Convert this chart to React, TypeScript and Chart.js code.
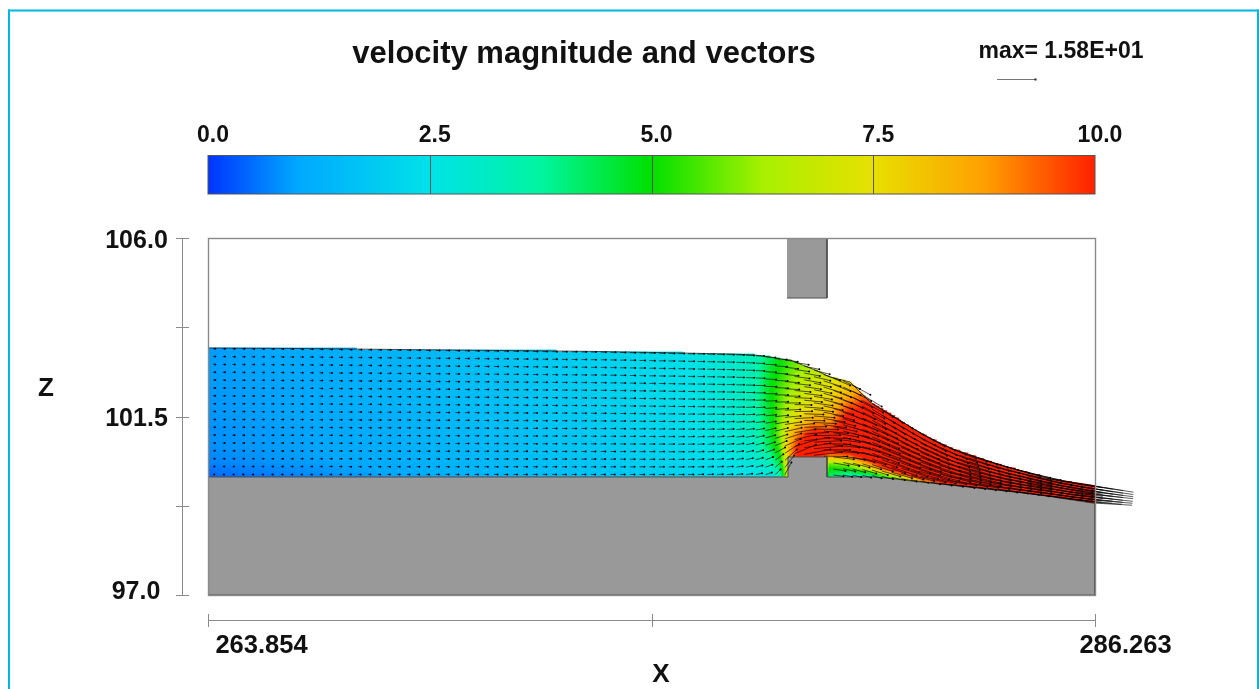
import React, { useEffect, useRef } from "react";
import { Chart, registerables } from "chart.js";

Chart.register(...registerables);

const titleText = "velocity magnitude and vectors";
const maxText = "max= 1.58E+01";
const xAxisTitle = "X";
const zAxisTitle = "Z";

const xMin = 263.854;
const xMax = 286.263;
const zMin = 97;
const zMax = 106;

const xTicks = [263.854, 275.0585, 286.263];
const xTickLabels = ["263.854", "", "286.263"];
const zTicks = [97, 99.25, 101.5, 103.75, 106];
const zTickLabels = ["97.0", "", "101.5", "", "106.0"];

const colorValues = [0, 1.0, 2.5, 3.75, 5, 6.25, 7.5, 8.75, 10];
const colorHex = ["#0033ff", "#00a8ff", "#00e2e8", "#00f5a0", "#00e000", "#a8f000", "#e8e000", "#ffa000", "#ff2000"];

const stations = [263.854, 266.178, 268.705, 271.231, 273.757, 275.779, 277.042, 277.674, 278.052, 278.307, 278.557, 278.81, 279.189, 279.568, 280.073, 280.578, 281.084, 281.842, 282.6, 283.863, 285.126, 286.263];
const surfaceZ = [103.227, 103.214, 103.189, 103.164, 103.139, 103.101, 103.076, 103.05, 103.0, 102.95, 102.924, 102.823, 102.672, 102.496, 102.37, 101.866, 101.563, 101.084, 100.706, 100.277, 99.924, 99.748];
const bedZ = [99.975, 99.975, 99.975, 99.975, 99.975, 99.975, 99.975, 99.975, 99.975, 99.975, 99.975, 99.975, 99.975, 99.975, 99.975, 99.975, 99.937, 99.849, 99.773, 99.647, 99.483, 99.307];
const vectorRowsByStation = [17, 17, 17, 17, 17, 17, 17, 17, 17, 17, 17, 17, 17, 17, 16, 14, 13, 11, 10, 9, 8, 7];

// speed per station, surface to bed
const speedByStation = [
  [0.9, 0.9, 0.9, 0.85, 0.85, 0.8, 0.8, 0.7, 0.45],
  [1.05, 1.05, 1, 1, 1, 0.95, 0.95, 0.9, 0.7],
  [1.35, 1.3, 1.3, 1.3, 1.25, 1.2, 1.2, 1.15, 1.0],
  [1.7, 1.7, 1.65, 1.6, 1.6, 1.55, 1.5, 1.5, 1.4],
  [2.05, 2.05, 2.0, 2.0, 1.95, 1.9, 1.85, 1.8, 1.7],
  [2.4, 2.4, 2.4, 2.4, 2.35, 2.3, 2.25, 2.2, 2.1],
  [2.9, 2.9, 2.9, 2.9, 2.85, 2.8, 2.7, 2.5, 2.3],
  [3.3, 3.4, 3.5, 3.5, 3.4, 3.3, 3.1, 2.8, 2.5],
  [4.3, 4.6, 4.8, 4.8, 4.6, 4.5, 4.3, 3.3, 2.6],
  [4.9, 5.2, 5.5, 5.6, 5.8, 6.0, 5.5, 4.5, 3.0],
  [5.5, 5.8, 6.1, 6.5, 7, 8, 8.5, 8.5, 8],
  [6.0, 6.4, 6.8, 7.2, 7.8, 9.3, 10.5, 10.5, 10],
  [6.6, 7, 7.4, 7.8, 9, 10.8, 11.5, 11, 10],
  [7.2, 7.5, 7.8, 8.3, 9.3, 10.8, 10, 5.5, 4],
  [7.8, 8.4, 9.5, 10.5, 11, 11.5, 10, 6, 3],
  [9.8, 11, 11, 11.5, 12, 12, 10.5, 7.5, 3],
  [10, 10.5, 11.5, 12, 12.5, 12.5, 12, 9.5, 4.5],
  [11, 11.5, 12, 12.5, 12.5, 13, 12.5, 10.5, 7.5],
  [11.5, 12, 12.5, 13, 13, 13, 13, 11, 10],
  [13, 13.3, 13.5, 13.5, 13.5, 13.5, 13.5, 13.5, 12],
  [14.5, 14.6, 14.7, 14.7, 14.7, 14.7, 14.7, 14.7, 14],
  [15.8, 15.7, 15.6, 15.6, 15.5, 15.4, 15.3, 15.2, 15],
];

// flow direction in degrees per station, surface to bed
const angleByStation = [
  [0, 0, 0, 0, 0, 0, 0, 0, 0],
  [0, 0, 0, 0, 0, 0, 0, 0, 0],
  [0, 0, 0, 0, 0, 0, 0, 0, 0],
  [0, 0, 0, 0, 0, 0, 0, 0, 0],
  [0, 0, 0, 0, 0, 1, 1, 1, 0],
  [0, 0, 0, 0, 1, 2, 2, 2, 0],
  [-1, -1, 0, 1, 3, 6, 8, 8, 3],
  [-2, -2, -1, 2, 5, 10, 14, 15, 10],
  [-3, -3, -2, 2, 6, 14, 20, 25, 20],
  [-6, -5, -3, 1, 6, 15, 25, 50, 70],
  [-8, -7, -4, 0, 5, 12, 25, 40, 60],
  [-10, -9, -6, -3, 1, 6, 12, 15, 10],
  [-15, -13, -10, -7, -3, 1, 5, 6, 5],
  [-22, -20, -17, -14, -10, -6, -3, -10, -5],
  [-28, -27, -24, -21, -18, -14, -11, -15, -12],
  [-33, -31, -28, -25, -22, -20, -18, -18, -15],
  [-32, -31, -29, -26, -24, -22, -20, -18, -10],
  [-28, -27, -25, -23, -21, -19, -17, -14, -8],
  [-22, -21, -20, -18, -17, -15, -13, -11, -8],
  [-15, -14, -14, -13, -12, -11, -10, -9, -8],
  [-10, -10, -10, -9, -9, -9, -8, -8, -7],
  [-9, -8.5, -8, -7, -6, -6, -5, -4, -3],
];

const groundX = [263.854, 278.507, 278.507, 279.492, 279.492, 280.63, 281.084, 281.842, 282.6, 283.863, 285.126, 286.263, 286.263, 263.854];
const groundZ = [99.975, 99.975, 100.479, 100.479, 99.975, 99.975, 99.937, 99.849, 99.773, 99.647, 99.483, 99.307, 97, 97];
const gateX = [278.482, 279.492, 279.492, 278.482];
const gateZ = [106, 106, 104.487, 104.487];

const fieldStep = 0.05;
const vectorFirstX = 263.98;
const vectorStepX = 0.2449;
const zUnitsPerSpeed = 0.0624;

const hexRgb = (h: string) => [1, 3, 5].map((i) => parseInt(h.slice(i, i + 2), 16));
const colorFor = (v: number) => {
  const c = Math.min(10, Math.max(0, v));
  let i = 0;
  while (i < colorValues.length - 2 && c > colorValues[i + 1]) i++;
  const t = (c - colorValues[i]) / (colorValues[i + 1] - colorValues[i]);
  const a = hexRgb(colorHex[i]);
  const b = hexRgb(colorHex[i + 1]);
  const m = a.map((p, k) => Math.round(p + (b[k] - p) * t));
  return `rgb(${m[0]},${m[1]},${m[2]})`;
};
const locate = (x: number) => {
  let i = 0;
  while (i < stations.length - 2 && x > stations[i + 1]) i++;
  return [i, Math.min(1, Math.max(0, (x - stations[i]) / (stations[i + 1] - stations[i])))];
};
const lerp = (a: number, b: number, t: number) => a + (b - a) * t;
const profileAt = (arr: number[], x: number) => {
  const [i, t] = locate(x);
  return lerp(arr[i], arr[i + 1], t);
};
const tableAt = (tab: number[][], x: number, eta: number) => {
  const [i, t] = locate(x);
  const r = Math.min(7, Math.floor(eta * 8));
  const u = eta * 8 - r;
  return lerp(lerp(tab[i][r], tab[i][r + 1], u), lerp(tab[i + 1][r], tab[i + 1][r + 1], u), t);
};

const buildField = () => {
  const pts: { x: number; y: number }[] = [];
  const cols: string[] = [];
  for (let x = xMin + fieldStep / 2; x < xMax; x += fieldStep) {
    const s = profileAt(surfaceZ, x);
    const b = profileAt(bedZ, x);
    for (let z = b + fieldStep / 2; z < s; z += fieldStep) {
      pts.push({ x, y: z });
      cols.push(colorFor(tableAt(speedByStation, x, (s - z) / (s - b))));
    }
  }
  return { pts, cols };
};

const buildVectors = () => {
  const lines: { x: number; y: number | null }[] = [];
  const tips: { x: number; y: number }[] = [];
  for (let c = 0; ; c++) {
    const x = Math.min(xMax, vectorFirstX + c * vectorStepX);
    const s = profileAt(surfaceZ, x);
    const b = profileAt(bedZ, x);
    const rows = Math.round(profileAt(vectorRowsByStation, x));
    for (let k = 0; k < rows; k++) {
      const eta = 0.005 + (0.975 * k) / (rows - 1);
      const z = s + (b - s) * eta;
      if (x > groundX[1] && x < groundX[3] && z < groundZ[2]) continue;
      const len = tableAt(speedByStation, x, eta) * zUnitsPerSpeed;
      const a = (tableAt(angleByStation, x, eta) * Math.PI) / 180;
      const tip = { x: x + Math.cos(a) * len, y: z + Math.sin(a) * len };
      lines.push({ x, y: z }, tip, { x: tip.x, y: null });
      tips.push(tip);
    }
    if (x >= xMax) break;
  }
  return { lines, tips };
};

const zip = (xs: number[], ys: number[]) => xs.map((x, i) => ({ x, y: ys[i] }));
const boldFont = (s: number) => `bold ${s}px "Liberation Sans", Arial, sans-serif`;

const decorPlugin = {
  id: "decor",
  beforeDatasetsDraw(chart: any) {
    const { ctx, scales } = chart;
    const c = scales.xc;
    const x0 = c.getPixelForValue(0);
    const x1 = c.getPixelForValue(10);
    const g = ctx.createLinearGradient(x0, 0, x1, 0);
    colorValues.forEach((v, i) => g.addColorStop(v / 10, colorHex[i]));
    ctx.save();
    ctx.fillStyle = g;
    ctx.fillRect(x0, 155.5, x1 - x0, 38.5);
    ctx.strokeStyle = "#555555";
    ctx.lineWidth = 1;
    ctx.strokeRect(x0, 155.5, x1 - x0, 38.5);
    [2.5, 5, 7.5].forEach((v) => {
      const p = Math.round(c.getPixelForValue(v)) + 0.5;
      ctx.beginPath();
      ctx.moveTo(p, 155.5);
      ctx.lineTo(p, 194);
      ctx.stroke();
    });
    ctx.restore();
  },
  afterDatasetsDraw(chart: any) {
    const { ctx, scales, chartArea: a } = chart;
    ctx.save();
    ctx.strokeStyle = "#8a8a8a";
    ctx.lineWidth = 1.4;
    ctx.strokeRect(a.left + 0.5, a.top + 0.5, a.right - a.left, a.bottom - a.top);
    ctx.lineWidth = 1;
    const seg = (x1: number, y1: number, x2: number, y2: number) => {
      ctx.beginPath();
      ctx.moveTo(x1, y1);
      ctx.lineTo(x2, y2);
      ctx.stroke();
    };
    const yAxisPx = 182.5;
    seg(yAxisPx, scales.y.getPixelForValue(zMax), yAxisPx, scales.y.getPixelForValue(zMin));
    zTicks.forEach((v) => {
      const p = Math.round(scales.y.getPixelForValue(v)) + 0.5;
      seg(176, p, 189, p);
    });
    const xAxisPx = 620.5;
    seg(scales.x.getPixelForValue(xMin), xAxisPx, scales.x.getPixelForValue(xMax), xAxisPx);
    xTicks.forEach((v) => {
      const p = Math.round(scales.x.getPixelForValue(v)) + 0.5;
      seg(p, 614, p, 627);
    });
    // reference vector of the legend
    ctx.strokeStyle = "#777777";
    seg(997, 79.5, 1036, 79.5);
    ctx.fillStyle = "#222222";
    ctx.fillRect(1034.5, 78.5, 2, 2);
    // page frame
    ctx.fillStyle = "#00b7e3";
    ctx.fillRect(8, 9.5, 1251, 2);
    ctx.fillRect(8, 9.5, 2, 680);
    ctx.fillRect(1257, 9.5, 2, 680);
    // texts
    ctx.fillStyle = "#111111";
    ctx.textBaseline = "middle";
    ctx.textAlign = "center";
    ctx.font = boldFont(31);
    ctx.fillText(titleText, 584, 54);
    ctx.font = boldFont(23);
    ctx.fillText(maxText, 1061, 52);
    ctx.font = boldFont(26);
    ctx.fillText(zAxisTitle, 46, 388.5);
    ctx.fillText(xAxisTitle, 661, 675);
    ctx.font = boldFont(25.5);
    ctx.fillText(xTickLabels[0], scales.x.getPixelForValue(xTicks[0]) + 53.5, 646);
    ctx.fillText(xTickLabels[2], scales.x.getPixelForValue(xTicks[2]) + 30.5, 646);
    ctx.font = boldFont(25);
    ctx.fillText(zTickLabels[4], 136.5, scales.y.getPixelForValue(zTicks[4]) + 3);
    ctx.fillText(zTickLabels[2], 136.5, scales.y.getPixelForValue(zTicks[2]) + 3);
    ctx.fillText(zTickLabels[0], 136, scales.y.getPixelForValue(zTicks[0]) - 3);
    ctx.restore();
  },
};

export default function App() {
  const ref = useRef<HTMLCanvasElement | null>(null);
  useEffect(() => {
    const { pts, cols } = buildField();
    const { lines, tips } = buildVectors();
    const chart = new Chart(ref.current as HTMLCanvasElement, {
      type: "scatter",
      data: {
        datasets: [
          {
            label: "velocity magnitude",
            data: pts,
            order: 6,
            pointStyle: "rect",
            pointRadius: 1.95,
            pointBorderWidth: 0,
            pointBackgroundColor: cols,
            showLine: false,
          },
          {
            label: "ground",
            data: zip(groundX, groundZ),
            order: 4,
            showLine: true,
            fill: "shape",
            backgroundColor: "#999999",
            borderColor: "#4d4d4d",
            borderWidth: 1,
            pointRadius: 0,
            tension: 0,
          },
          {
            label: "gate",
            data: zip(gateX, gateZ),
            order: 4,
            showLine: true,
            fill: "shape",
            backgroundColor: "#999999",
            borderColor: "#4d4d4d",
            borderWidth: 1,
            pointRadius: 0,
            tension: 0,
          },
          {
            label: "water surface",
            data: zip(stations, surfaceZ),
            order: 3,
            showLine: true,
            borderColor: "rgba(40,40,40,0.8)",
            borderWidth: 1,
            pointRadius: 0,
            tension: 0,
          },
          {
            label: "vectors",
            data: lines,
            order: 2,
            showLine: true,
            spanGaps: false,
            clip: false,
            borderColor: "rgba(0,0,0,0.8)",
            borderWidth: 0.8,
            pointRadius: 0,
            tension: 0,
          },
          {
            label: "vector tips",
            data: tips,
            order: 1,
            clip: false,
            showLine: false,
            pointRadius: 1,
            pointBorderWidth: 0,
            pointBackgroundColor: "#000000",
          },
        ],
      } as any,
      options: {
        animation: false,
        responsive: false,
        events: [],
        layout: { padding: { left: 0, top: 0, right: 164, bottom: 0 } },
        plugins: { legend: { display: false }, title: { display: false }, tooltip: { enabled: false } },
        scales: {
          x: {
            type: "linear",
            position: "bottom",
            min: xMin,
            max: xMax,
            grid: { display: false, drawTicks: false },
            border: { display: false },
            ticks: { display: false },
            afterBuildTicks: (s: any) => {
              s.ticks = xTicks.map((value) => ({ value }));
            },
            afterFit: (s: any) => {
              s.height = 94;
            },
          },
          y: {
            type: "linear",
            position: "left",
            min: zMin,
            max: zMax,
            grid: { display: false, drawTicks: false },
            border: { display: false },
            ticks: { display: false },
            afterBuildTicks: (s: any) => {
              s.ticks = zTicks.map((value) => ({ value }));
            },
            afterFit: (s: any) => {
              s.width = 208;
            },
          },
          xc: {
            type: "linear",
            axis: "x",
            position: "top",
            min: 0,
            max: 10,
            grid: { display: false, drawTicks: false },
            border: { display: false },
            afterFit: (s: any) => {
              s.height = 238;
            },
            ticks: {
              stepSize: 2.5,
              autoSkip: false,
              maxRotation: 0,
              padding: 89,
              labelOffset: 5,
              color: "#111111",
              font: { family: '"Liberation Sans", Arial, sans-serif', weight: "bold", size: 23 },
              callback: (v: any) => Number(v).toFixed(1),
            },
          },
        },
      } as any,
      plugins: [decorPlugin],
    });
    return () => chart.destroy();
  }, []);
  return (
    <div style={{ position: "fixed", left: 0, top: 0, width: 1259, height: 689, background: "#ffffff", overflow: "hidden" }}>
      <canvas ref={ref} width={1259} height={689} style={{ display: "block" }} />
    </div>
  );
}
